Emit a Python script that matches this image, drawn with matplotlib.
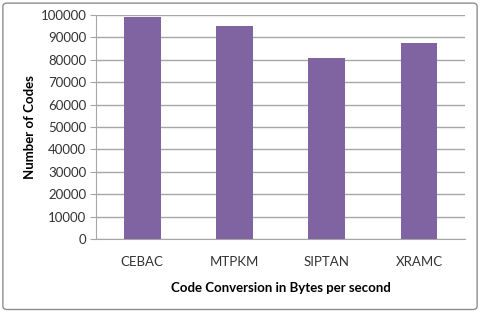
import matplotlib
matplotlib.use("Agg")
import matplotlib.pyplot as plt
from matplotlib.patches import FancyBboxPatch

categories = ["CEBAC", "MTPKM", "SIPTAN", "XRAMC"]
values = [99100, 95100, 80800, 87400]
yticks = [0, 10000, 20000, 30000, 40000, 50000, 60000, 70000, 80000, 90000, 100000]

plt.rcParams['font.family'] = ['Lato', 'DejaVu Sans']

fig = plt.figure(figsize=(4.8, 3.12), dpi=100)
ax = fig.add_axes([0.2, 0.234, 0.769, 0.718])

x = range(len(categories))
ax.bar(x, values, width=0.4, color="#8064A2", zorder=3)
ax.set_xlim(-0.5, len(categories) - 0.5)
ax.set_ylim(0, 100000)
ax.set_yticks(yticks)
ax.set_yticklabels([str(v) for v in yticks], fontsize=9.5, color="#333333")
ax.set_xticks(list(x))
ax.set_xticklabels(categories, fontsize=9.5, color="#333333")
ax.yaxis.grid(True, color="#A6A6A6", linewidth=1, zorder=0)
ax.set_axisbelow(True)
for s in ["top", "right"]:
    ax.spines[s].set_visible(False)
for s in ["left", "bottom"]:
    ax.spines[s].set_color("#A6A6A6")
ax.tick_params(axis="y", length=4, color="#A6A6A6", pad=3)
ax.tick_params(axis="x", length=0, pad=12)
ax.set_ylabel("Number of Codes", fontsize=9.5, fontweight="bold", labelpad=3)
ax.set_xlabel("Code Conversion in Bytes per second", fontsize=9.5, fontweight="bold", labelpad=10)

border = FancyBboxPatch((0.006, 0.008), 0.988, 0.982, boxstyle="round,pad=0,rounding_size=0.01",
                        transform=fig.transFigure, fill=False, edgecolor="#8C8C8C", linewidth=1)
fig.patches.append(border)

fig.savefig("out.png", dpi=100)
